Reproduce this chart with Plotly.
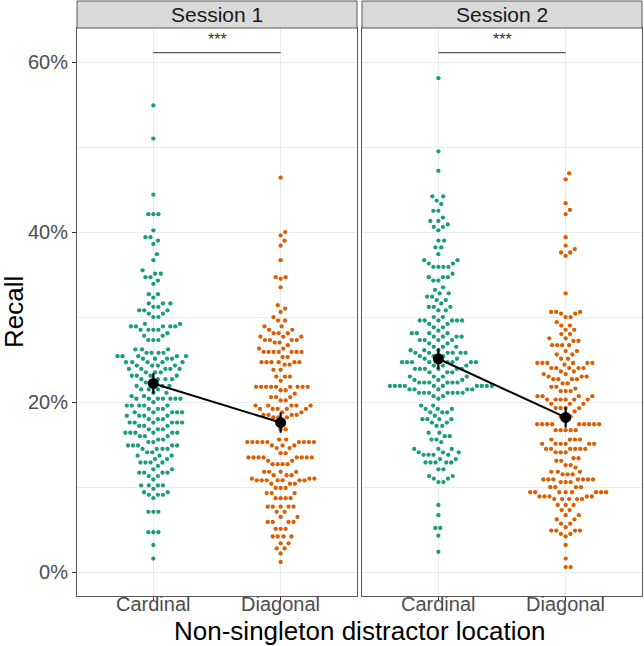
import numpy as np
import plotly.graph_objects as go

# ---------------- data (recall in %) ----------------
categories = ["Cardinal", "Diagonal"]
sessions = ["Session 1", "Session 2"]

s1_card_vals = [54.9, 51.0, 44.4, 42.1, 40.2, 39.4, 39.0, 38.6, 37.4, 36.7, 35.5, 35.1, 34.7, 34.3, 33.9,
                32.7, 32.3, 31.6, 31.2, 30.8, 30.4, 30.0, 29.2, 28.9, 28.5, 28.1, 27.8, 27.3, 26.2, 25.8,
                25.4, 25.1, 24.7, 24.3, 23.9, 23.5, 23.1, 22.7, 22.3, 21.9, 21.5, 21.1, 20.7, 20.4, 20.0,
                19.6, 19.2, 18.8, 18.4, 18.0, 17.6, 17.2, 16.8, 16.4, 16.0, 15.6, 15.3, 14.9, 14.5, 14.1,
                13.7, 13.3, 12.9, 12.5, 12.1, 11.7, 11.3, 10.9, 10.2, 9.8, 9.4, 9.1, 8.7, 7.1, 4.7, 3.2, 1.6]
s1_card_counts = [1, 1, 1, 3, 1, 2, 1, 1, 1, 1, 1, 2, 2, 1, 1,
                  2, 1, 3, 2, 3, 2, 2, 2, 5, 4, 1, 2, 3, 3, 4,
                  5, 4, 5, 4, 5, 3, 4, 4, 2, 3, 3, 2, 2, 7, 1,
                  5, 3, 5, 4, 3, 6, 3, 3, 6, 3, 2, 2, 5, 4, 2,
                  3, 2, 4, 1, 2, 4, 2, 1, 4, 1, 2, 3, 1, 3, 3, 1, 1]

s1_diag_vals = [46.4, 40.0, 39.6, 39.0, 38.4, 36.7, 34.7, 34.5, 33.5, 31.4, 31.0, 30.6, 30.0, 29.6, 28.9,
                28.5, 28.1, 27.7, 27.3, 27.0, 26.7, 26.3, 25.9, 25.3, 24.7, 24.4, 23.8, 23.0, 22.5, 21.8,
                21.4, 21.0, 20.6, 20.2, 19.6, 19.2, 18.8, 18.5, 18.2, 17.7, 16.8, 15.6, 15.3, 14.9, 14.6,
                14.0, 13.5, 13.1, 12.7, 11.8, 11.4, 11.0, 10.8, 10.4, 9.9, 9.3, 8.7, 7.7, 7.1, 6.5,
                5.9, 5.1, 4.2, 3.4, 2.8, 2.2, 1.2]
s1_diag_counts = [1, 1, 1, 1, 1, 1, 2, 1, 1, 1, 1, 1, 1, 2, 2,
                  2, 3, 3, 4, 2, 1, 2, 7, 2, 6, 2, 2, 3, 1, 9,
                  2, 1, 3, 2, 5, 5, 2, 4, 3, 1, 2, 2, 9, 3, 2,
                  2, 8, 2, 4, 4, 3, 3, 7, 3, 3, 3, 4, 5, 2, 2,
                  4, 3, 4, 2, 2, 1, 1]

s2_card_vals = [58.1, 49.5, 47.2, 44.2, 43.7, 43.3, 42.5, 41.7, 41.3, 40.9, 40.6, 40.2, 39.0, 38.2, 37.4,
                36.7, 36.3, 35.9, 35.1, 34.7, 34.3, 33.5, 33.2, 32.8, 32.4, 32.0, 31.6, 31.2, 30.8, 30.0,
                29.6, 29.2, 28.8, 28.4, 28.1, 27.7, 27.3, 26.9, 26.5, 26.1, 25.8, 25.4, 25.1, 24.7, 24.3,
                23.9, 23.5, 23.0, 22.6, 22.3, 21.9, 21.5, 21.1, 20.7, 20.4, 19.6, 19.2, 18.8, 18.4, 18.0,
                17.6, 17.2, 16.4, 16.0, 15.6, 15.3, 14.5, 14.1, 13.8, 13.3, 12.9, 12.1, 11.3, 11.0, 10.6,
                7.9, 6.7, 5.2, 4.3, 2.4]
s2_card_counts = [1, 1, 1, 2, 1, 1, 2, 1, 2, 1, 2, 1, 2, 2, 1,
                  2, 2, 4, 1, 3, 2, 1, 1, 2, 2, 2, 1, 3, 2, 2,
                  6, 2, 2, 1, 4, 4, 4, 2, 3, 3, 6, 3, 3, 8, 3,
                  6, 3, 4, 3, 6, 10, 5, 7, 2, 1, 2, 3, 3, 1, 4,
                  2, 2, 2, 2, 2, 1, 3, 3, 4, 2, 5, 2, 2, 2, 2,
                  1, 1, 2, 1, 1]

s2_diag_vals = [46.9, 46.2, 43.4, 42.6, 42.1, 39.4, 38.4, 38.0, 37.6, 37.2, 32.8, 30.6, 30.4, 30.0, 29.4,
                29.0, 28.5, 28.0, 27.5, 27.2, 26.7, 26.0, 25.6, 25.1, 24.6, 24.4, 24.0, 23.6, 23.3, 23.0,
                22.7, 22.2, 21.8, 21.6, 21.3, 20.7, 20.3, 19.8, 19.3, 18.9, 18.3, 17.4, 16.7, 15.6, 15.1,
                14.5, 14.1, 13.4, 13.1, 12.6, 12.3, 11.8, 11.5, 10.9, 10.6, 10.0, 9.4, 8.9, 8.6, 7.9,
                7.3, 6.7, 6.2, 5.7, 5.3, 4.9, 4.5, 4.2, 3.2, 1.6, 0.6]
s2_diag_counts = [1, 1, 1, 1, 1, 1, 1, 1, 2, 1, 1, 3, 2, 2, 1,
                  2, 2, 2, 2, 2, 4, 2, 2, 2, 6, 1, 5, 2, 2, 3,
                  4, 2, 2, 1, 3, 4, 6, 3, 4, 1, 3, 9, 5, 4, 6,
                  6, 3, 2, 2, 2, 1, 3, 3, 7, 3, 4, 8, 5, 5, 3,
                  2, 2, 2, 2, 1, 4, 2, 1, 1, 1, 2]

# summary values (mean and error-bar half width, %)
session1_means = [22.2, 17.6]
session2_means = [25.1, 18.2]
session1_err = [1.2, 1.2]
session2_err = [1.2, 1.2]
significance = ["***", "***"]

# ---------------- layout geometry ----------------
W, H = 644, 646
ML, MR, MT, MB = 77, 2, 28, 50
PW = W - ML - MR
PH = H - MT - MB
panel_w = 280
dom1 = [0, panel_w / PW]
dom2 = [(PW - panel_w) / PW, 1]
XR = [-0.6, 1.6]
YR = [-2.8, 64.0]
px_x = panel_w / (XR[1] - XR[0])
px_y = PH / (YR[1] - YR[0])

GREEN = "#1b9e77"
ORANGE = "#d95f02"
FONT = "Liberation Sans, Arial, sans-serif"
BORDER = "#5a5a5a"
SPACING = 5.0          # point-to-point spacing of the swarm, px
SWARM_Y_SCALE = 0.6    # vertical compression used while computing the swarm


def swarm_offsets(values, spacing):
    """beeswarm 'swarm' layout (ascending priority), in pixels"""
    y = np.asarray(values, float) * px_y * SWARM_Y_SCALE
    order = np.argsort(y, kind="stable")
    placed_x, placed_y = [], []
    xs = np.zeros(len(y))
    for i in order:
        yi = y[i]
        near = [(px, py) for px, py in zip(placed_x, placed_y) if abs(py - yi) < spacing]
        cands = [0.0]
        for px, py in near:
            d = np.sqrt(spacing ** 2 - (py - yi) ** 2)
            cands.append(px + d)
        for px, py in near:
            d = np.sqrt(spacing ** 2 - (py - yi) ** 2)
            cands.append(px - d)
        best = None
        for c in cands:
            ok = all((c - px) ** 2 + (yi - py) ** 2 >= spacing ** 2 * 0.999 for px, py in near)
            if ok and (best is None or abs(c) < abs(best) - 1e-9):
                best = c
        xs[i] = best
        placed_x.append(best)
        placed_y.append(yi)
    return xs


def expand(vals, counts):
    out = []
    for v, c in zip(vals, counts):
        out += [v] * c
    return out


groups = [
    [(s1_card_vals, s1_card_counts), (s1_diag_vals, s1_diag_counts)],
    [(s2_card_vals, s2_card_counts), (s2_diag_vals, s2_diag_counts)],
]
means = [session1_means, session2_means]
errs = [session1_err, session2_err]
colors = [GREEN, ORANGE]

fig = go.Figure()
for p in range(2):
    xa = "x" if p == 0 else "x2"
    ya = "y" if p == 0 else "y2"
    for c in range(2):
        vals = expand(*groups[p][c])
        off = swarm_offsets(vals, SPACING)
        fig.add_trace(go.Scatter(
            x=c + off / px_x, y=vals, mode="markers", xaxis=xa, yaxis=ya,
            marker=dict(size=4.3, color=colors[c], line=dict(width=0)),
            showlegend=False, hoverinfo="skip"))
    fig.add_trace(go.Scatter(
        x=[0, 1], y=means[p], mode="lines+markers", xaxis=xa, yaxis=ya,
        line=dict(color="black", width=2),
        marker=dict(size=11, color="black"),
        error_y=dict(type="data", array=errs[p], thickness=2.2, width=0, color="black"),
        showlegend=False, hoverinfo="skip"))

axis_common = dict(
    showgrid=True, gridcolor="#ebebeb", gridwidth=1.1, zeroline=False,
    showline=True, mirror=True, linecolor=BORDER, linewidth=1,
    ticks="outside", ticklen=4, tickcolor="#333333", tickwidth=1,
    tickfont=dict(family=FONT, size=20, color="#4d4d4d"),
)
fig.update_layout(
    width=W, height=H,
    margin=dict(l=ML, r=MR, t=MT, b=MB),
    paper_bgcolor="white", plot_bgcolor="white",
    xaxis=dict(domain=dom1, range=XR, tickvals=[0, 1], showticklabels=False, anchor="y", **axis_common),
    xaxis2=dict(domain=dom2, range=XR, tickvals=[0, 1], showticklabels=False, anchor="y2", **axis_common),
    yaxis=dict(domain=[0, 1], range=YR, tickvals=[0, 20, 40, 60], ticktext=["0%", "20%", "40%", "60%"],
               anchor="x",
               minor=dict(tickvals=[10, 30, 50], showgrid=True, gridcolor="#ebebeb", gridwidth=0.55, ticks=""),
               **axis_common),
    yaxis2=dict(domain=[0, 1], range=YR, tickvals=[0, 20, 40, 60], anchor="x2", matches="y",
                showticklabels=False,
                minor=dict(tickvals=[10, 30, 50], showgrid=True, gridcolor="#ebebeb", gridwidth=0.55, ticks=""),
                **{k: v for k, v in axis_common.items() if k not in ("ticks",)}, ticks=""),
)

shapes = []
annotations = []
strip_h = 27 / PH
for p, dom in enumerate([dom1, dom2]):
    shapes.append(dict(type="rect", xref="paper", yref="paper", x0=dom[0], x1=dom[1], y0=1, y1=1 + strip_h,
                       fillcolor="#d9d9d9", line=dict(color=BORDER, width=1), layer="above"))
    annotations.append(dict(xref="paper", yref="paper", x=(dom[0] + dom[1]) / 2, y=1 + strip_h / 2,
                            text=sessions[p], showarrow=False, xanchor="center", yanchor="middle",
                            font=dict(family=FONT, size=21, color="#1a1a1a")))
    xa = "x" if p == 0 else "x2"
    ya = "y" if p == 0 else "y2"
    shapes.append(dict(type="line", xref=xa, yref=ya, x0=0, x1=1, y0=61.1, y1=61.1,
                       line=dict(color="#595959", width=1.2)))
    annotations.append(dict(xref=xa, yref=ya, x=0.5, y=62.7, text=significance[p], showarrow=False,
                            xanchor="center", yanchor="middle",
                            font=dict(family=FONT, size=16, color="#333333")))
    for c, cat in enumerate(categories):
        annotations.append(dict(xref=xa, yref="paper", x=c, y=-(604 - (MT + PH)) / PH, text=cat,
                                showarrow=False, xanchor="center", yanchor="middle",
                                font=dict(family=FONT, size=20, color="#4d4d4d")))

annotations.append(dict(xref="paper", yref="paper", x=0.5, y=-(630.5 - (MT + PH)) / PH,
                        xanchor="center", yanchor="middle",
                        text="Non-singleton distractor location", showarrow=False,
                        font=dict(family=FONT, size=26, color="black")))
annotations.append(dict(xref="paper", yref="paper", x=-(ML - 14) / PW, y=0.5, xanchor="center",
                        yanchor="middle", textangle=-90, text="Recall", showarrow=False,
                        font=dict(family=FONT, size=26, color="black")))
fig.update_layout(shapes=shapes, annotations=annotations)

fig.write_html("out.html")
